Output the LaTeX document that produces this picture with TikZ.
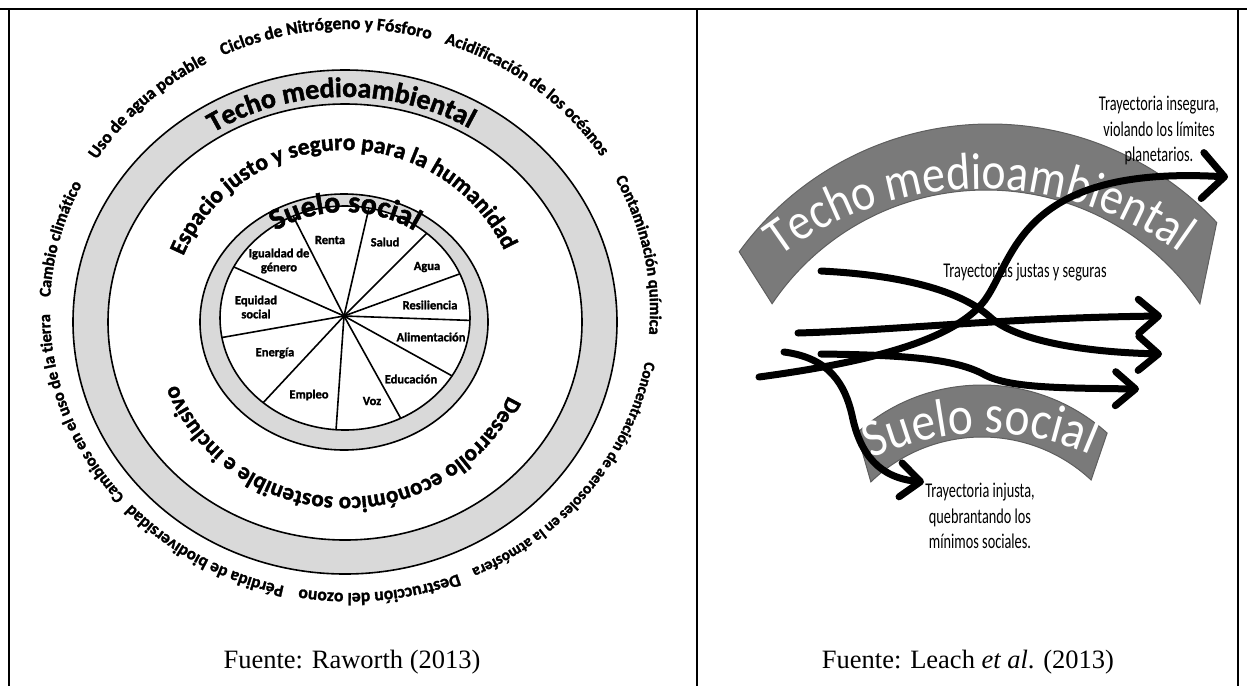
\documentclass[tikz,border=0pt]{standalone}
\usepackage{fontspec}
\setmainfont{Liberation Serif}
\newfontfamily\raworthFont{Carlito}[BoldFeatures={FakeBold=1.6}]
\newfontfamily\leachFont[FakeStretch=0.68]{Carlito}
\newfontfamily\bandFont[FakeStretch=0.88]{Carlito}
\usepackage{tikz}
\usetikzlibrary{
    arrows.meta, positioning, calc,
    decorations.text
}
\definecolor{ringGray}{HTML}{D9D9D9}
\definecolor{bandGray}{HTML}{7A7A7A}
\definecolor{bandEdge}{HTML}{5E5E5E}

\begin{document}
\begin{tikzpicture}[x=1pt, y=-1pt,
    curvedlabel/.style 2 args={decorate, decoration={text along path, text align=center,
        text={|\raworthFont\bfseries\fontsize{#1}{#1}\selectfont|#2}}},
    bandlabel/.style 2 args={decorate, decoration={text along path, text align=center,
        text color=white, text={|\bandFont\fontsize{#1}{#1}\selectfont|#2}}},
    ring/.style={fill=ringGray, draw=black, line width=1.6pt, even odd rule},
    spoke/.style={line width=1.6pt},
    wheellabel/.style={font=\raworthFont\bfseries\fontsize{12.5}{14}\selectfont, align=center, inner sep=0pt},
    note/.style={font=\leachFont\fontsize{21}{25.5}\selectfont, align=center, inner sep=0pt},
    caption/.style={font=\fontsize{26.5}{30}\selectfont, inner sep=0pt, anchor=base},
    band/.style={fill=bandGray, draw=bandEdge, line width=1pt},
    traj/.style={line width=7pt, line cap=round, -{Straight Barb[length=20pt, width=34pt, round]}},
    frame/.style={line width=2.5pt}
]
    \useasboundingbox (0,0) rectangle (1247,686);

    % table cells
    \draw[frame] (0,9) -- (1247,9);
    \draw[frame] (9,9) -- (9,686);
    \draw[frame] (697,9) -- (697,686);
    \draw[frame] (1238,9) -- (1238,686);

    % doughnut
    \coordinate (bc) at (345,322);
    \coordinate (lc) at (350,311);
    \coordinate (wo) at (344,322);
    \coordinate (wc) at (345,318);
    \coordinate (hub) at (344,316);

    \path[ring] (bc) ellipse[x radius=272, y radius=252] (bc) ellipse[x radius=237, y radius=218];
    \path[ring] (wo) ellipse[x radius=144, y radius=128] (wc) ellipse[x radius=125, y radius=112];

    \begin{scope}
        \clip (wc) ellipse[x radius=125, y radius=112];
        \foreach \a in {-117,-77,-45,-20,2,29,61,94,133,170,-156}
            \draw[spoke] (hub) -- ++(\a:200);
    \end{scope}

    \node[wheellabel] (renta) at (330,240) {Renta};
    \node[wheellabel] (salud) at (385,242) {Salud};
    \node[wheellabel] (agua) at (427,267) {Agua};
    \node[wheellabel] (resiliencia) at (430,305) {Resiliencia};
    \node[wheellabel] (alimentacion) at (431,337) {Alimentación};
    \node[wheellabel] (educacion) at (411,379) {Educación};
    \node[wheellabel] (voz) at (372,401) {Voz};
    \node[wheellabel] (empleo) at (309,395) {Empleo};
    \node[wheellabel] (energia) at (275,353) {Energía};
    \node[wheellabel] (equidad) at (256,307) {Equidad\\social};
    \node[wheellabel] (igualdad) at (279,261) {Igualdad de\\género};

    \path[curvedlabel={30}{Suelo social}] ([shift={(-170:122 and 106)}]wc)
        arc[start angle=-170, end angle=-10, x radius=122, y radius=106];
    \path[curvedlabel={28}{Techo medioambiental}] ([shift={(-166:244 and 225)}]bc)
        arc[start angle=-166, end angle=-16, x radius=244, y radius=225];
    \path[curvedlabel={23.5}{Espacio justo y seguro para la humanidad}] ([shift={(-176:175 and 172)}]bc)
        arc[start angle=-176, end angle=-6, x radius=175, y radius=172];
    \path[curvedlabel={23}{Desarrollo económico sostenible e inclusivo}] ([shift={(7:180 and 175)}]bc)
        arc[start angle=7, end angle=177, x radius=180, y radius=175];

    % planetary boundaries
    \path[curvedlabel={16.5}{Cambio climático}] ([shift={(-241:300 and 282)}]lc)
        arc[start angle=-241, end angle=-91, x radius=300, y radius=282];
    \path[curvedlabel={17.5}{Uso de agua potable}] ([shift={(-209.5:300 and 282)}]lc)
        arc[start angle=-209.5, end angle=-59.5, x radius=300, y radius=282];
    \path[curvedlabel={17.5}{Ciclos de Nitrógeno y Fósforo}] ([shift={(-170:300 and 282)}]lc)
        arc[start angle=-170, end angle=-20, x radius=300, y radius=282];
    \path[curvedlabel={17}{Acidificación de los océanos}] ([shift={(-126:300 and 282)}]lc)
        arc[start angle=-126, end angle=24, x radius=300, y radius=282];
    \path[curvedlabel={16.5}{Contaminación química}] ([shift={(-86:300 and 282)}]lc)
        arc[start angle=-86, end angle=64, x radius=300, y radius=282];
    \path[curvedlabel={15.5}{Concentración de aerosoles en la atmósfera}] ([shift={(-38:300 and 282)}]lc)
        arc[start angle=-38, end angle=112, x radius=300, y radius=282];
    \path[curvedlabel={17.5}{Destrucción del ozono}] ([shift={(9:300 and 282)}]lc)
        arc[start angle=9, end angle=159, x radius=300, y radius=282];
    \path[curvedlabel={17}{Pérdida de biodiversidad}] ([shift={(46:300 and 282)}]lc)
        arc[start angle=46, end angle=196, x radius=300, y radius=282];
    \path[curvedlabel={16.5}{Cambios en el uso de la tierra}] ([shift={(85:300 and 282)}]lc)
        arc[start angle=85, end angle=235, x radius=300, y radius=282];

    \node[caption] (fuenteL) at (352,668) {Fuente: Raworth (2013)};

    % ceiling and floor bands
    \coordinate (tc) at (990,434);
    \coordinate (ti) at (986,448);
    \coordinate (tb) at (982,527);
    \coordinate (sc) at (982,572);
    \coordinate (si) at (982,597);
    \coordinate (sb) at (985,693);

    \path[band] ([shift={(-144:310)}]tc) arc[start angle=-144, end angle=-43, radius=310]
        -- ([shift={(-34:258)}]ti) arc[start angle=-34, end angle=-146, radius=258] -- cycle;
    \path[band] ([shift={(-132:187)}]sc) arc[start angle=-132, end angle=-48, radius=187]
        -- ([shift={(-47:160)}]si) arc[start angle=-47, end angle=-134, radius=160] -- cycle;

    \path[bandlabel={52}{Techo medioambiental}] ([shift={(-140.5:338)}]tb)
        arc[start angle=-140.5, end angle=-40.5, radius=338];
    \path[bandlabel={54}{Suelo social}] ([shift={(-141:260)}]sb)
        arc[start angle=-141, end angle=-41, radius=260];

    \node[note, anchor=north] (inseg) at (1159,96) {Trayectoria insegura,\\violando los límites\\planetarios.};
    \node[note, anchor=base] (justas) at (1025,277) {Trayectorias justas y seguras};
    \node[note, anchor=north] (injusta) at (980,483) {Trayectoria injusta,\\quebrantando los\\mínimos sociales.};

    % trajectories
    \coordinate (insA) at (759,377);
    \coordinate (insB) at (1228,177);
    \coordinate (jA1) at (821,271);
    \coordinate (jB1) at (1162,354);
    \coordinate (jA2) at (798,333);
    \coordinate (jB2) at (1162,316);
    \coordinate (jA3) at (821,354);
    \coordinate (jB3) at (1139,389);
    \coordinate (injA) at (784,352);
    \coordinate (injB) at (924,482);

    \draw[traj] (jA1) .. controls (900,275) and (960,290) .. (990,317)
        .. controls (1015,340) and (1080,352) .. (jB1);
    \draw[traj] (jA2) .. controls (900,330) and (1000,318) .. (jB2);
    \draw[traj] (jA3) .. controls (900,355) and (955,358) .. (985,375)
        .. controls (1010,388) and (1060,388) .. (jB3);
    \draw[traj] (injA) .. controls (830,358) and (845,385) .. (852,415)
        .. controls (860,455) and (880,478) .. (injB);
    \draw[traj, -{Straight Barb[length=22pt, width=46pt, round]}] (insA)
        .. controls (870,362) and (955,340) .. (985,300)
        .. controls (1015,258) and (1020,165) .. (insB);

    \node[caption] (fuenteR) at (968,668) {Fuente: Leach \textit{et al}. (2013)};
\end{tikzpicture}
\end{document}
